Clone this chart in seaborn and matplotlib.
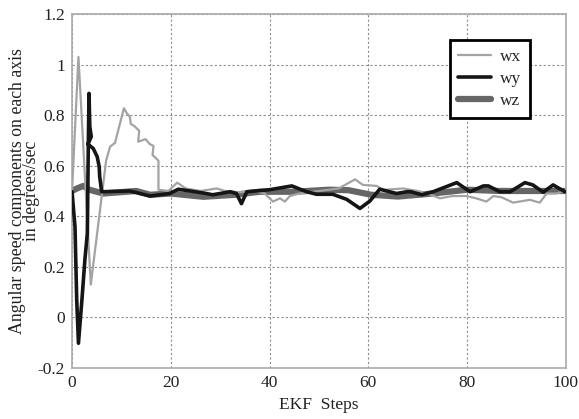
import numpy as np
import pandas as pd
import matplotlib
matplotlib.use("Agg")
import matplotlib.pyplot as plt
import seaborn as sns

sns.set_style("white")
plt.rcParams['font.family'] = ['Liberation Serif', 'DejaVu Serif']

# wx : light gray thin line
wx_steps = [0, 1.3, 3.8, 6.9, 7.7, 8.7, 10.5, 11.1, 11.7, 11.9, 12.6, 13.6, 13.4, 14.9, 15.7, 16.5, 16.3, 17.5, 17.5,
            19.5, 21.3, 23, 26, 29.3, 31, 34, 37, 39, 40.7, 42.1, 43.1, 44.1, 46, 50, 54, 57.3, 58.9, 61.7, 63, 67,
            70, 72, 74.5, 77, 79.9, 82, 83.9, 85.3, 87, 89.3, 92.7, 94.7, 96.1, 98, 100]
wx_vals = [0.50, 1.03, 0.13, 0.62, 0.675, 0.69, 0.827, 0.807, 0.794, 0.765, 0.757, 0.738, 0.695, 0.705, 0.686, 0.678, 0.642, 0.62, 0.505,
           0.50, 0.533, 0.51, 0.50, 0.51, 0.50, 0.495, 0.50, 0.49, 0.458, 0.471, 0.458, 0.48, 0.49, 0.50, 0.51, 0.546, 0.524, 0.52, 0.504, 0.51,
           0.50, 0.49, 0.471, 0.48, 0.48, 0.47, 0.458, 0.48, 0.475, 0.454, 0.465, 0.454, 0.49, 0.49, 0.50]

# wy : black line (has a loop near the start)
wy_steps = [0, 0.6, 0.95, 1.3, 2.0, 2.6, 3.1, 3.3, 3.44, 3.6, 3.9, 3.2, 4.3, 5.1, 5.5, 5.6, 6.0,
            11.7, 15.8, 19.8, 21.5, 26.6, 28.5, 32, 33.3, 34.3, 35.4, 40, 44.5, 47.5, 49.5, 52.8, 55.6, 58.3, 60.3,
            62.3, 65.7, 67.8, 68.6, 70.8, 73.1, 77.9, 80.6, 83.3, 84.3, 86.6, 88.7, 91.7, 93.3, 95.4, 97.4, 99.8]
wy_vals = [0.497, 0.359, 0.069, -0.102, 0.069, 0.227, 0.333, 0.688, 0.886, 0.754, 0.715, 0.685, 0.668, 0.635, 0.596, 0.557, 0.497,
           0.50, 0.48, 0.49, 0.507, 0.492, 0.485, 0.497, 0.49, 0.45, 0.497, 0.505, 0.52, 0.497, 0.487, 0.487, 0.467, 0.431, 0.46,
           0.507, 0.49, 0.497, 0.497, 0.485, 0.497, 0.533, 0.497, 0.52, 0.52, 0.497, 0.497, 0.533, 0.524, 0.495, 0.524, 0.497]

# wz : thick dark gray line
wz_steps = [0, 1, 2.3, 3.5, 6.3, 13, 15.8, 20, 26.6, 33, 38, 45, 52, 56, 60.6, 66, 73, 80, 86.6, 93.3, 100]
wz_vals = [0.50, 0.51, 0.52, 0.505, 0.49, 0.50, 0.485, 0.49, 0.477, 0.485, 0.497, 0.497, 0.505, 0.503, 0.485, 0.478, 0.49, 0.505, 0.50, 0.50, 0.50]

fig = plt.figure(figsize=(5.79, 4.19), dpi=100)
ax = fig.add_axes([0.1244, 0.1217, 0.853, 0.845])

sns.lineplot(x=wz_steps, y=wz_vals, sort=False, estimator=None, color="#666666", lw=4.5, ax=ax, label="wz", zorder=2)
sns.lineplot(x=wx_steps, y=wx_vals, sort=False, estimator=None, color="#a3a3a3", lw=1.6, ax=ax, label="wx", zorder=3)
sns.lineplot(x=wy_steps, y=wy_vals, sort=False, estimator=None, color="#151515", lw=2.6, ax=ax, label="wy", zorder=4)

ax.set_xlim(0, 100)
ax.set_ylim(-0.2, 1.2)
ax.set_xticks([0, 20, 40, 60, 80, 100])
ax.set_yticks([-0.2, 0, 0.2, 0.4, 0.6, 0.8, 1.0, 1.2])
ax.set_yticklabels(["-0.2", "0", "0.2", "0.4", "0.6", "0.8", "1", "1.2"])
ax.tick_params(labelsize=12.5, length=3, color="#999999", colors="#222222", pad=2)
ax.grid(True, linestyle=(0, (2, 2)), color="#8c8c8c", lw=0.8)
for s in ax.spines.values():
    s.set_color("#aaaaaa")
    s.set_linewidth(1.2)

ax.set_xlabel("EKF  Steps", fontsize=12.5, color="#222222", labelpad=4)
ax.set_ylabel("Angular speed components on each axis\nin degrees/sec", fontsize=12.8, color="#222222",
              linespacing=0.8)
ax.yaxis.set_label_coords(-0.065, 0.5)

handles, labels = ax.get_legend_handles_labels()
order = [labels.index(k) for k in ["wx", "wy", "wz"]]
leg = ax.legend([handles[i] for i in order], [labels[i] for i in order], loc="upper right",
                bbox_to_anchor=(0.927, 0.927), borderaxespad=0, fancybox=False, fontsize=12.5,
                handlelength=1.9, handletextpad=0.5, labelspacing=0.35, borderpad=0.5, framealpha=1)
leg.get_frame().set_edgecolor("black")
leg.get_frame().set_linewidth(2)

fig.savefig("out.png", dpi=100)
